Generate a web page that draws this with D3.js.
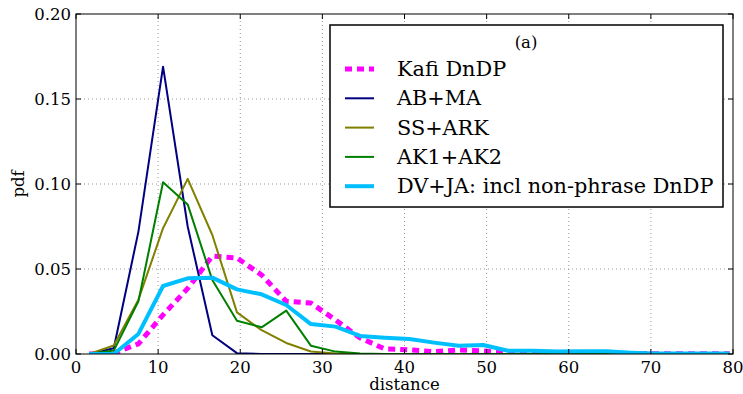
<!DOCTYPE html>
<html lang="en">
<head>
<meta charset="UTF-8">
<title>pdf of distance</title>
<style>
  body { margin: 0; background: #fff; }
  svg { display: block; font-family: 'DejaVu Serif', serif; }
  .grid line { stroke: #999; stroke-dasharray: 1,3; stroke-width: 1; }
  .tick-label { font-size: 16.5px; fill: #000; }
</style>
</head>
<body>
<div id="chart"></div>
<script src="https://d3js.org/d3.v7.min.js"></script>
<script>
// bin centres (distance) shared by all series
const distance = [1.6, 4.6, 7.6, 10.6, 13.6, 16.6, 19.6, 22.6, 25.6, 28.6, 31.6, 34.6, 37.6, 40.6,
                  43.6, 46.6, 49.6, 52.6, 55.6, 58.6, 61.6, 64.6, 67.6, 70.6, 73.6, 76.6, 79.6];

const kafi = [0, 0.0005, 0.006, 0.023, 0.0386, 0.0576, 0.0565, 0.0465, 0.031, 0.030, 0.020, 0.0094, 0.003, 0.0024,
              0.0014, 0.0024, 0.0018, 0.0008, 0.0004, 0.0003, 0.0003, 0.0003, 0.0003, 0.0002, 0.0002, 0.0002, 0.0002];
const abma = [0, 0.0034, 0.072, 0.169, 0.075, 0.011, 0.0005, 0, 0, 0, 0, 0, 0, 0,
              0, 0, 0, 0, 0, 0, 0, 0, 0, 0, 0, 0, 0];
const ssark = [0, 0.005, 0.032, 0.074, 0.103, 0.070, 0.0245, 0.014, 0.0065, 0.0015, 0.0003, 0, 0, 0,
               0, 0, 0, 0, 0, 0, 0, 0, 0, 0, 0, 0, 0];
const ak = [0, 0.002, 0.031, 0.101, 0.088, 0.0435, 0.0196, 0.0157, 0.0255, 0.0049, 0.0014, 0.0003, 0, 0,
            0, 0, 0, 0, 0, 0, 0, 0, 0, 0, 0, 0, 0];
const dvja = [0, 0, 0.0118, 0.040, 0.0445, 0.0449, 0.038, 0.0351, 0.0288, 0.0176, 0.0161, 0.0106, 0.0096, 0.0088,
              0.0067, 0.0049, 0.0053, 0.0019, 0.0019, 0.0014, 0.0016, 0.0016, 0.0008, 0.0003, 0.0003, 0.0003, 0.0003];

const seriesNames = ["Kafi DnDP", "AB+MA", "SS+ARK", "AK1+AK2", "DV+JA: incl non-phrase DnDP"];
const xTicks = [0, 10, 20, 30, 40, 50, 60, 70, 80];
const yTicks = [0, 0.05, 0.10, 0.15, 0.20];

const width = 743, height = 394;
const margin = { top: 14, right: 10, bottom: 40, left: 76 };

const svg = d3.select('#chart').append('svg')
    .attr('width', width)
    .attr('height', height);

const x = d3.scaleLinear().domain([0, 80]).range([margin.left, 733]);
const y = d3.scaleLinear().domain([0, 0.20]).range([354, margin.top]);

// grid
const grid = svg.append('g').attr('class', 'grid');
grid.selectAll('.gx').data(xTicks.slice(1, -1)).enter().append('line')
    .attr('x1', d => x(d)).attr('x2', d => x(d))
    .attr('y1', y(0)).attr('y2', y(0.2));
grid.selectAll('.gy').data(yTicks.slice(1, -1)).enter().append('line')
    .attr('x1', x(0)).attr('x2', x(80))
    .attr('y1', d => y(d)).attr('y2', d => y(d));

// lines
const series = [
  { name: seriesNames[0], values: kafi, color: '#ff00ff', width: 5, dash: '7,5' },
  { name: seriesNames[1], values: abma, color: '#000080', width: 2, dash: null },
  { name: seriesNames[2], values: ssark, color: '#808000', width: 2, dash: null },
  { name: seriesNames[3], values: ak, color: '#008000', width: 2, dash: null },
  { name: seriesNames[4], values: dvja, color: '#00bfff', width: 4, dash: null }
];

const line = d3.line().x((d, i) => x(distance[i])).y(d => y(d));

const plot = svg.append('g');
plot.append('clipPath').attr('id', 'clip').append('rect')
    .attr('x', x(0)).attr('y', y(0.2)).attr('width', x(80) - x(0)).attr('height', y(0) - y(0.2));

plot.selectAll('.series').data(series).enter().append('path')
    .attr('clip-path', 'url(#clip)')
    .attr('d', d => line(d.values))
    .attr('fill', 'none')
    .attr('stroke', d => d.color)
    .attr('stroke-width', d => d.width)
    .attr('stroke-dasharray', d => d.dash)
    .attr('stroke-linejoin', 'round');

// frame
svg.append('rect')
    .attr('x', x(0)).attr('y', y(0.2))
    .attr('width', x(80) - x(0)).attr('height', y(0) - y(0.2))
    .attr('fill', 'none').attr('stroke', '#000').attr('stroke-width', 1);

// inward ticks on all sides
const ticks = svg.append('g').attr('stroke', '#000').attr('stroke-width', 1);
xTicks.forEach(t => {
  ticks.append('line').attr('x1', x(t)).attr('x2', x(t)).attr('y1', y(0)).attr('y2', y(0) - 5);
  ticks.append('line').attr('x1', x(t)).attr('x2', x(t)).attr('y1', y(0.2)).attr('y2', y(0.2) + 5);
});
yTicks.forEach(t => {
  ticks.append('line').attr('x1', x(0)).attr('x2', x(0) + 5).attr('y1', y(t)).attr('y2', y(t));
  ticks.append('line').attr('x1', x(80)).attr('x2', x(80) - 5).attr('y1', y(t)).attr('y2', y(t));
});

// tick labels
svg.selectAll('.xl').data(xTicks).enter().append('text')
    .attr('class', 'tick-label')
    .attr('x', d => x(d)).attr('y', y(0) + 19)
    .attr('text-anchor', 'middle')
    .text(d => d);
svg.selectAll('.yl').data(yTicks).enter().append('text')
    .attr('class', 'tick-label')
    .attr('x', x(0) - 5).attr('y', d => y(d) + 6)
    .attr('text-anchor', 'end')
    .text(d => d3.format('.2f')(d));

// axis titles
svg.append('text')
    .attr('x', (x(0) + x(80)) / 2).attr('y', 390)
    .attr('text-anchor', 'middle')
    .style('font-size', '16.5px')
    .text('distance');
svg.append('text')
    .attr('transform', `translate(24,${y(0.1)}) rotate(-90)`)
    .attr('text-anchor', 'middle')
    .style('font-size', '16.5px')
    .text('pdf');

// legend
const lg = svg.append('g').attr('transform', 'translate(330,25)');
lg.append('rect').attr('width', 393).attr('height', 182)
    .attr('fill', '#fff').attr('stroke', '#000').attr('stroke-width', 1.5);
lg.append('text').attr('x', 196).attr('y', 23)
    .attr('text-anchor', 'middle').style('font-size', '16.5px').text('(a)');
const rows = lg.selectAll('.row').data(series).enter().append('g')
    .attr('transform', (d, i) => `translate(0,${44 + i * 29.3})`);
rows.append('line')
    .attr('x1', 15).attr('x2', 44).attr('y1', 0).attr('y2', 0)
    .attr('stroke', d => d.color)
    .attr('stroke-width', d => d.width)
    .attr('stroke-dasharray', d => d.dash);
rows.append('text')
    .attr('x', 67).attr('y', 7)
    .style('font-size', '20.8px')
    .text(d => d.name);
</script>
</body>
</html>
